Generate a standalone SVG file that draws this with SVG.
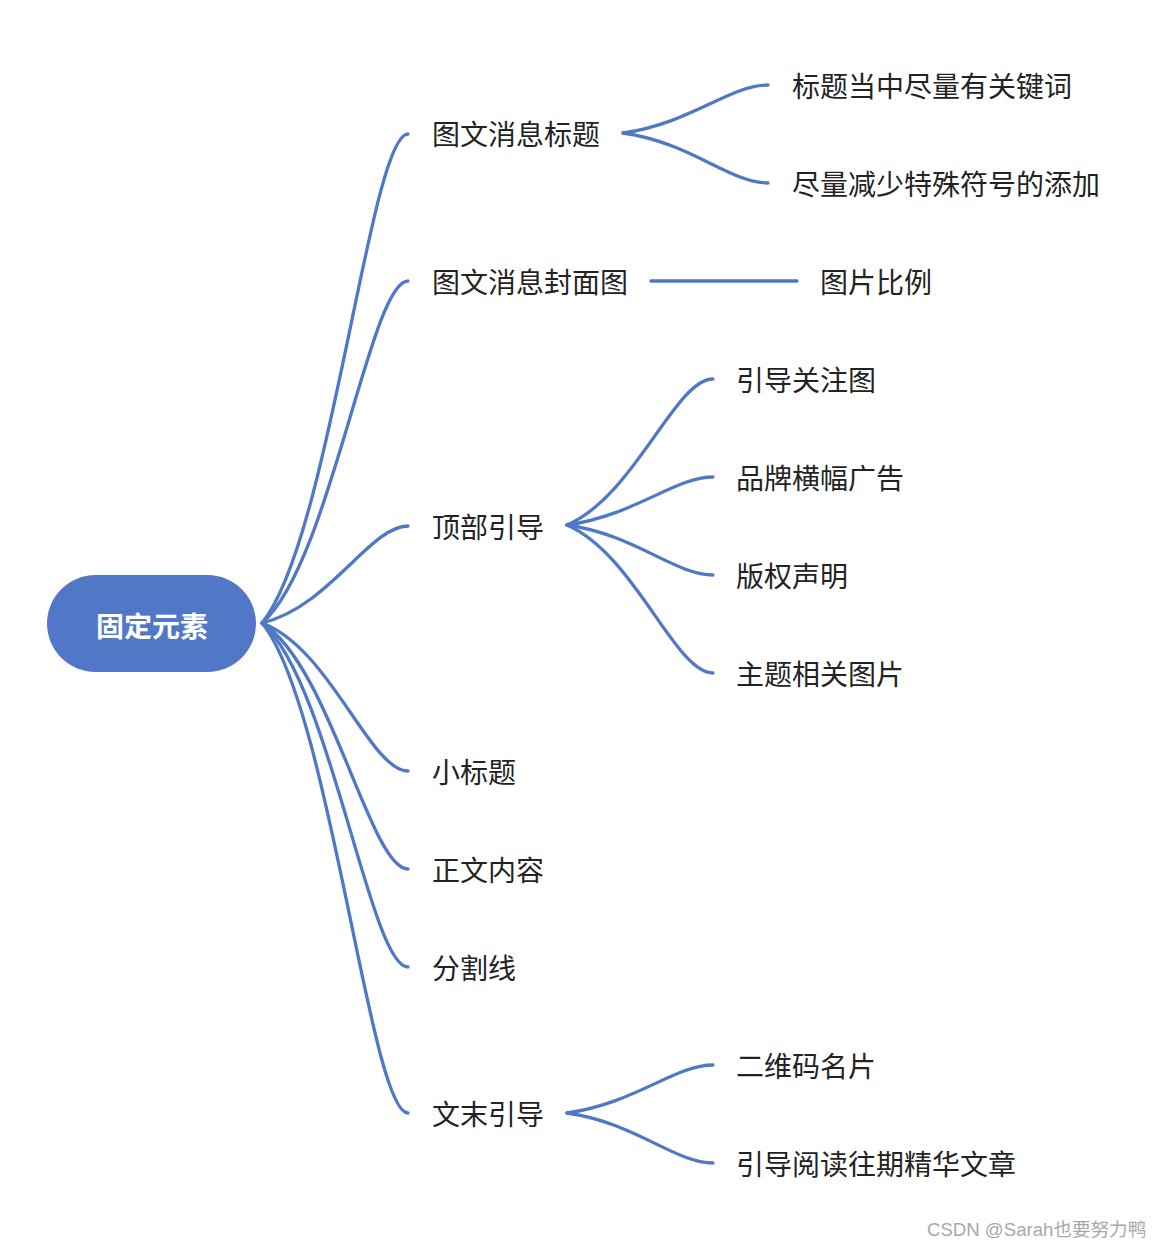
<svg xmlns="http://www.w3.org/2000/svg" width="1164" height="1248" viewBox="0 0 1164 1248">
<style>
.c{fill:none;stroke:#4F78C7;stroke-width:3.3;stroke-linecap:round}
.t{font-family:"Noto Sans CJK SC","Noto Sans",sans-serif;font-size:28px;fill:#232323;dominant-baseline:central}
.r{font-family:"Noto Sans CJK SC","Noto Sans",sans-serif;font-size:28px;font-weight:bold;fill:#ffffff;dominant-baseline:central;text-anchor:middle}
.w{font-family:"Liberation Sans","Noto Sans CJK SC",sans-serif;font-size:18.6px;fill:#a8a8a8}
</style>
<rect width="1164" height="1248" fill="#ffffff"/>
<g id="connectors">
<path class="c" d="M262,623 C330,540 370,134 408,134"/>
<path class="c" d="M262,623 C330,565 370,281 408,281"/>
<path class="c" d="M262,623 C330,606.5 370,526 408,526"/>
<path class="c" d="M262,623 C330,648 370,771 408,771"/>
<path class="c" d="M262,623 C330,665 370,869 408,869"/>
<path class="c" d="M262,623 C330,681.5 370,967 408,967"/>
<path class="c" d="M262,623 C330,706 370,1113 408,1113"/>
<path class="c" d="M623,133 C691,123.4 730,85 768,85"/>
<path class="c" d="M623,133 C691,142.6 730,183 768,183"/>
<path class="c" d="M651,281 L797,281"/>
<path class="c" d="M567,525 C635,495.8 675,379 713,379"/>
<path class="c" d="M567,525 C635,515.4 675,477 713,477"/>
<path class="c" d="M567,525 C635,534.6 675,575 713,575"/>
<path class="c" d="M567,525 C635,554.6 675,673 713,673"/>
<path class="c" d="M567,1113 C635,1103.4 675,1065 713,1065"/>
<path class="c" d="M567,1113 C635,1122.6 675,1163 713,1163"/>
</g>
<g id="root"><rect x="47" y="575" width="209" height="97" rx="48.5" fill="#5078C7"/><text class="r" x="152" y="625">固定元素</text></g>
<g id="n1"><text class="t" x="432" y="133">图文消息标题</text></g>
<g id="n2"><text class="t" x="432" y="281">图文消息封面图</text></g>
<g id="n3"><text class="t" x="432" y="526">顶部引导</text></g>
<g id="n4"><text class="t" x="432" y="771">小标题</text></g>
<g id="n5"><text class="t" x="432" y="869">正文内容</text></g>
<g id="n6"><text class="t" x="432" y="967">分割线</text></g>
<g id="n7"><text class="t" x="432" y="1113">文末引导</text></g>
<g id="n1a"><text class="t" x="792" y="85">标题当中尽量有关键词</text></g>
<g id="n1b"><text class="t" x="792" y="183">尽量减少特殊符号的添加</text></g>
<g id="n2a"><text class="t" x="820" y="281">图片比例</text></g>
<g id="n3a"><text class="t" x="736" y="379">引导关注图</text></g>
<g id="n3b"><text class="t" x="736" y="477">品牌横幅广告</text></g>
<g id="n3c"><text class="t" x="736" y="575">版权声明</text></g>
<g id="n3d"><text class="t" x="736" y="673">主题相关图片</text></g>
<g id="n7a"><text class="t" x="736" y="1065">二维码名片</text></g>
<g id="n7b"><text class="t" x="736" y="1163">引导阅读往期精华文章</text></g>
<text class="w" x="927" y="1236">CSDN @Sarah也要努力鸭</text>
</svg>
